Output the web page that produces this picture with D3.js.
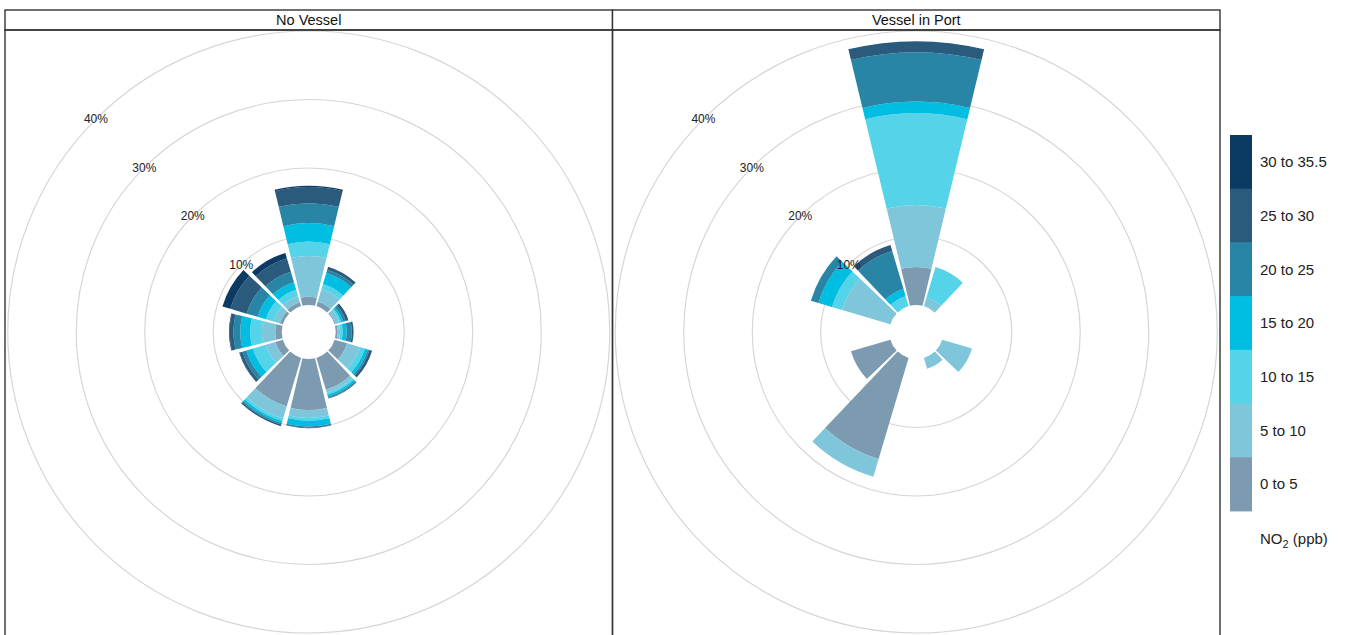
<!DOCTYPE html>
<html>
<head>
<meta charset="utf-8">
<script src="https://cdn.jsdelivr.net/npm/d3@7"></script>
<style>
  body { margin: 0; background: #fff; }
  svg { display: block; font-family: "Liberation Sans", Arial, sans-serif; }
</style>
</head>
<body>
<div id="chart"></div>
<script>
// wind sectors (degrees) and NO2 concentration bins
var directions = [0, 30, 60, 90, 120, 150, 180, 210, 240, 270, 300, 330];
var bins = ['0 to 5', '5 to 10', '10 to 15', '15 to 20', '20 to 25', '25 to 30', '30 to 35.5'];
var binColours = ['#7d9bb0', '#7fc6da', '#55d3e8', '#00bde2', '#2885a5', '#2a5a7c', '#0b3a63'];
var panelNames = ['No Vessel', 'Vessel in Port'];
var gridPct = [10, 20, 30, 40];

// percentage of time in each bin, one row per direction (same order as directions)
var noVessel = [
    [1.2, 5.95, 2.1, 2.7, 2.9, 2.35, 0.2],
    [0.7, 1.9, 0.75, 1.7, 0.5, 0.45, 0],
    [0.15, 0.55, 0.3, 0.3, 0.4, 0.4, 0],
    [0.3, 0.35, 0.35, 0.6, 0.75, 0.25, 0],
    [1.9, 1.9, 0.8, 0.45, 0.25, 0.4, 0],
    [4.85, 0.45, 0.3, 0.3, 0.2, 0.1, 0],
    [7.45, 1.15, 0.4, 0.85, 0.2, 0.05, 0],
    [7.4, 1.8, 0.4, 0.35, 0.2, 0.25, 0],
    [1.15, 1.45, 1.95, 1.0, 0.6, 0.4, 0.1],
    [0.95, 1.95, 1.7, 1.45, 1.0, 0.55, 0.1],
    [0.45, 0.95, 1.2, 1.25, 1.65, 2.5, 1.2],
    [0.6, 0.9, 1.0, 1.15, 1.6, 2.05, 0.8]
];
var vesselInPort = [
    [5.55, 9.05, 13.4, 1.7, 7.2, 1.6, 0],
    [0.1, 1.2, 4.65, 0, 0, 0, 0],
    [0, 0, 0, 0, 0, 0, 0],
    [0, 0, 0, 0, 0, 0, 0],
    [0, 4.55, 0, 0, 0, 0, 0],
    [0, 1.65, 0, 0, 0, 0, 0],
    [0, 0, 0, 0, 0, 0, 0],
    [15.4, 2.7, 0, 0, 0, 0, 0],
    [6.0, 0, 0, 0, 0, 0, 0],
    [0, 0, 0, 0, 0, 0, 0],
    [0, 7.35, 1.55, 2.05, 1.15, 0, 0],
    [0, 0, 1.5, 1.1, 5.8, 0.9, 0]
];

var width = 1357, height = 635;
var panelLeft = 5, panelWidth = 607.5;
var stripTop = 10, stripHeight = 20;
var centreY = 332;
var halfWidth = 13.5; // half sector width, degrees

var r = d3.scaleLinear().domain([0, 40]).range([27, 301]);
var colour = d3.scaleOrdinal().domain(bins).range(binColours);

var svg = d3.select('#chart')
    .append('svg')
    .attr('width', width)
    .attr('height', height);

var arc = d3.arc();
var rad = Math.PI / 180;

[noVessel, vesselInPort].forEach(function(rows, p) {
    var x0 = panelLeft + p * panelWidth;
    var cx = x0 + panelWidth / 2;

    svg.append('clipPath')
        .attr('id', 'clip' + p)
        .append('rect')
        .attr('x', x0).attr('y', stripTop + stripHeight)
        .attr('width', panelWidth).attr('height', height);

    var g = svg.append('g').attr('clip-path', 'url(#clip' + p + ')');

    // grid circles
    g.selectAll('circle.grid')
        .data(gridPct)
        .enter().append('circle')
        .attr('class', 'grid')
        .attr('cx', cx).attr('cy', centreY)
        .attr('r', function(d) { return r(d); })
        .attr('fill', 'none')
        .attr('stroke', '#d6d6d6')
        .attr('stroke-width', 1.2);

    // stacked wedges
    var wedges = [];
    rows.forEach(function(vals, i) {
        var cum = 0;
        vals.forEach(function(v, j) {
            if (v > 0) {
                wedges.push({dir: directions[i], bin: bins[j], lo: cum, hi: cum + v});
            }
            cum += v;
        });
    });

    g.append('g')
        .attr('transform', 'translate(' + cx + ',' + centreY + ')')
        .selectAll('path')
        .data(wedges)
        .enter().append('path')
        .attr('d', function(d) {
            return arc({
                innerRadius: r(d.lo),
                outerRadius: r(d.hi),
                startAngle: (d.dir - halfWidth) * rad,
                endAngle: (d.dir + halfWidth) * rad
            });
        })
        .attr('fill', function(d) { return colour(d.bin); });

    // percentage labels along the NW diagonal
    g.selectAll('text.pct')
        .data(gridPct)
        .enter().append('text')
        .attr('class', 'pct')
        .attr('x', function(d) { return cx - r(d) * Math.SQRT1_2; })
        .attr('y', function(d) { return centreY - r(d) * Math.SQRT1_2; })
        .attr('text-anchor', 'middle')
        .attr('dy', '0.35em')
        .attr('font-size', 12)
        .attr('fill', '#222')
        .text(function(d) { return d + '%'; });

    // strip and border
    svg.append('rect')
        .attr('x', x0).attr('y', stripTop)
        .attr('width', panelWidth).attr('height', stripHeight)
        .attr('fill', '#fff')
        .attr('stroke', '#333')
        .attr('stroke-width', 1.4);
    svg.append('text')
        .attr('x', cx).attr('y', stripTop + stripHeight / 2)
        .attr('dy', '0.36em')
        .attr('text-anchor', 'middle')
        .attr('font-size', 14.5)
        .attr('fill', '#111')
        .text(panelNames[p]);
    svg.append('rect')
        .attr('x', x0).attr('y', stripTop + stripHeight)
        .attr('width', panelWidth).attr('height', height)
        .attr('fill', 'none')
        .attr('stroke', '#333')
        .attr('stroke-width', 1.4);
});

// legend
var legendX = 1230, legendTop = 135, boxH = 53.7, boxW = 22;
var legendBins = bins.slice().reverse();
var legend = svg.append('g');
legend.selectAll('rect')
    .data(legendBins)
    .enter().append('rect')
    .attr('x', legendX)
    .attr('y', function(d, i) { return legendTop + i * boxH; })
    .attr('width', boxW)
    .attr('height', boxH + 0.5)
    .attr('fill', function(d) { return colour(d); });
legend.selectAll('text')
    .data(legendBins)
    .enter().append('text')
    .attr('x', legendX + 30)
    .attr('y', function(d, i) { return legendTop + i * boxH + boxH / 2; })
    .attr('dy', '0.35em')
    .attr('font-size', 15)
    .attr('fill', '#222')
    .text(function(d) { return d; });

var title = legend.append('text')
    .attr('x', legendX + 30)
    .attr('y', 544)
    .attr('font-size', 15)
    .attr('fill', '#222');
title.append('tspan').text('NO');
title.append('tspan').attr('font-size', 11).attr('dy', 4).text('2');
title.append('tspan').attr('dy', -4).text(' (ppb)');
</script>
</body>
</html>
